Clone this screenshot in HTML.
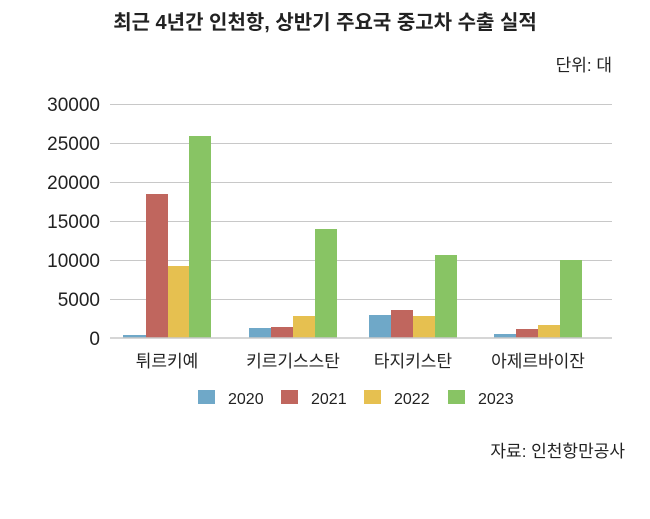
<!DOCTYPE html>
<html><head><meta charset="utf-8"><style>
body{margin:0;background:#fff;}
svg text{font-family:"Liberation Sans","Noto Sans CJK KR",sans-serif;fill:#222;}
</style></head><body>
<svg width="650" height="514" viewBox="0 0 650 514" xmlns="http://www.w3.org/2000/svg">
<rect width="650" height="514" fill="#fff"/>
<text x="325" y="29" font-size="20" font-weight="bold" text-anchor="middle">최근 4년간 인천항, 상반기 주요국 중고차 수출 실적</text>
<text x="612" y="71" font-size="17" text-anchor="end">단위: 대</text>
<g stroke="#c8c8c8" stroke-width="1">
<line x1="110" x2="612" y1="104.5" y2="104.5"/><line x1="110" x2="612" y1="143.5" y2="143.5"/>
<line x1="110" x2="612" y1="182.5" y2="182.5"/><line x1="110" x2="612" y1="221.5" y2="221.5"/>
<line x1="110" x2="612" y1="260.5" y2="260.5"/><line x1="110" x2="612" y1="299.5" y2="299.5"/>
</g>
<g font-size="19" text-anchor="end">
<text x="100" y="111">30000</text><text x="100" y="150">25000</text><text x="100" y="189">20000</text>
<text x="100" y="228">15000</text><text x="100" y="267">10000</text><text x="100" y="306">5000</text><text x="100" y="345">0</text>
</g>
<g>
<rect x="123" y="335" width="23" height="3" fill="#6fa8c8"/>
<rect x="146" y="194" width="22" height="144" fill="#c0665e"/>
<rect x="168" y="266" width="21" height="72" fill="#e6c050"/>
<rect x="189" y="136" width="22" height="202" fill="#88c464"/>
<rect x="249" y="328" width="22" height="10" fill="#6fa8c8"/>
<rect x="271" y="327" width="22" height="11" fill="#c0665e"/>
<rect x="293" y="316" width="22" height="22" fill="#e6c050"/>
<rect x="315" y="229" width="22" height="109" fill="#88c464"/>
<rect x="369" y="315" width="22" height="23" fill="#6fa8c8"/>
<rect x="391" y="310" width="22" height="28" fill="#c0665e"/>
<rect x="413" y="316" width="22" height="22" fill="#e6c050"/>
<rect x="435" y="255" width="22" height="83" fill="#88c464"/>
<rect x="494" y="334" width="22" height="4" fill="#6fa8c8"/>
<rect x="516" y="329" width="22" height="9" fill="#c0665e"/>
<rect x="538" y="325" width="22" height="13" fill="#e6c050"/>
<rect x="560" y="260" width="22" height="78" fill="#88c464"/>
</g>
<line x1="110" x2="612" y1="338" y2="338" stroke="#c8c8c8" stroke-width="1.5"/>
<g font-size="17" text-anchor="middle">
<text x="167" y="367">튀르키예</text><text x="293" y="367">키르기스스탄</text>
<text x="413" y="367">타지키스탄</text><text x="538" y="367">아제르바이잔</text>
</g>
<g font-size="16">
<rect x="198" y="390" width="17" height="14" fill="#6fa8c8"/><text x="228" y="404">2020</text>
<rect x="281" y="390" width="17" height="14" fill="#c0665e"/><text x="311" y="404">2021</text>
<rect x="364" y="390" width="17" height="14" fill="#e6c050"/><text x="394" y="404">2022</text>
<rect x="448" y="390" width="17" height="14" fill="#88c464"/><text x="478" y="404">2023</text>
</g>
<text x="625" y="457" font-size="17" text-anchor="end">자료: 인천항만공사</text>
</svg>
</body></html>
